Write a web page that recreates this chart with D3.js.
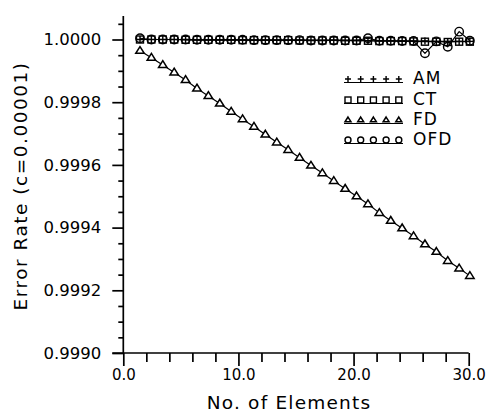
<!DOCTYPE html>
<html>
<head>
<meta charset="utf-8">
<script src="https://cdn.jsdelivr.net/npm/d3@7/dist/d3.min.js"></script>
<style>
  html, body { margin: 0; padding: 0; background: #fff; }
  svg { display: block; }
  text { font-family: "DejaVu Sans", sans-serif; fill: #000; }
</style>
</head>
<body>
<svg id="chart" width="490" height="414"></svg>
<script>
// Number of elements at each sample
const elements = [1.45, 2.44, 3.43, 4.42, 5.41, 6.40, 7.39, 8.38, 9.37, 10.36,
  11.35, 12.34, 13.33, 14.32, 15.31, 16.30, 17.29, 18.28, 19.27, 20.26,
  21.25, 22.24, 23.23, 24.22, 25.21, 26.20, 27.19, 28.18, 29.17, 30.10];

// Error rate per method (c = 0.00001)
const amRate = [1.000000, 1.000000, 1.000000, 1.000000, 1.000000, 0.999999, 0.999999, 0.999999, 0.999999, 0.999999,
  0.999998, 0.999998, 0.999998, 0.999998, 0.999998, 0.999997, 0.999997, 0.999998, 0.999997, 0.999997,
  0.999996, 0.999996, 0.999996, 0.999995, 0.999995, 0.999995, 0.999994, 0.999994, 0.999994, 0.999994];
const ctRate = [1.000000, 1.000000, 1.000000, 1.000000, 0.999999, 0.999999, 0.999999, 0.999999, 0.999999, 0.999998,
  0.999998, 0.999998, 0.999998, 0.999998, 0.999997, 0.999997, 0.999997, 0.999997, 0.999996, 0.999996,
  0.999996, 0.999995, 0.999995, 0.999995, 0.999994, 0.999993, 0.999993, 0.999992, 0.999993, 0.999993];
const fdRate = [0.999964, 0.999942, 0.999919, 0.999895, 0.999871, 0.999844, 0.999820, 0.999796, 0.999770, 0.999746,
  0.999722, 0.999697, 0.999672, 0.999648, 0.999623, 0.999598, 0.999574, 0.999549, 0.999524, 0.999500,
  0.999475, 0.999447, 0.999422, 0.999398, 0.999373, 0.999347, 0.999323, 0.999294, 0.999270, 0.999246];
const ofdRate = [1.000004, 1.000000, 1.000000, 1.000000, 1.000000, 0.999999, 0.999999, 0.999999, 0.999999, 0.999999,
  0.999998, 0.999998, 0.999998, 0.999998, 0.999998, 0.999997, 0.999997, 0.999997, 0.999997, 0.999997,
  1.000004, 0.999996, 0.999996, 0.999995, 0.999995, 0.999956, 0.999994, 0.999977, 1.000025, 0.999996];

const seriesNames = ["AM", "CT", "FD", "OFD"];

// Axis ticks
const xMajorTicks = [0, 10, 20, 30];
const xMinorTicks = [2, 4, 6, 8, 12, 14, 16, 18, 22, 24, 26, 28];
const yMajorTicks = [0.9990, 0.9992, 0.9994, 0.9996, 0.9998, 1.0000];
const yMinorTicks = [0.99905, 0.9991, 0.99915, 0.99925, 0.9993, 0.99935, 0.99945, 0.9995, 0.99955,
  0.99965, 0.9997, 0.99975, 0.99985, 0.9999, 0.99995, 1.00005];

const svg = d3.select("#chart");

const x = d3.scaleLinear().domain([0, 30]).range([123.3, 468.7]);
const y = d3.scaleLinear().domain([0.9990, 1.0000]).range([353, 39.5]);
const yTop = 1.000075;

const axisStroke = 1.7;

// y axis: major ticks with labels, then minor ticks
const yAxis = svg.append("g").attr("transform", `translate(${x(0)},0)`);
yAxis.call(d3.axisLeft(y).tickValues(yMajorTicks).tickSize(11).tickPadding(11)
  .tickFormat(d3.format(".4f")).tickSizeOuter(0));
yAxis.select(".domain").remove();
yAxis.append("g").call(d3.axisLeft(y).tickValues(yMinorTicks).tickSize(5).tickFormat(""))
  .select(".domain").remove();
yAxis.append("line").attr("x1", 0).attr("x2", 0)
  .attr("y1", y(0.9990)).attr("y2", y(yTop)).attr("stroke", "#000");
yAxis.selectAll("line").attr("stroke", "#000").attr("stroke-width", axisStroke);
yAxis.selectAll(".tick text").style("font-size", "16.5px")
  .style("font-family", "DejaVu Sans, sans-serif").attr("fill", "#000");

// x axis
const xAxis = svg.append("g").attr("transform", `translate(0,${y(0.9990)})`);
xAxis.call(d3.axisBottom(x).tickValues(xMajorTicks).tickSize(13).tickPadding(3)
  .tickFormat(d3.format(".1f")).tickSizeOuter(0));
xAxis.select(".domain").remove();
xAxis.append("g").call(d3.axisBottom(x).tickValues(xMinorTicks).tickSize(9).tickFormat(""))
  .select(".domain").remove();
xAxis.append("line").attr("x1", x(0) - 11).attr("x2", x(30)).attr("y1", 0).attr("y2", 0);
xAxis.selectAll("line").attr("stroke", "#000").attr("stroke-width", axisStroke);
xAxis.selectAll(".tick text").style("font-size", "15px")
  .style("font-family", "DejaVu Sans, sans-serif").attr("fill", "#000");

// Axis titles
svg.append("text")
  .attr("x", 289).attr("y", 409)
  .attr("text-anchor", "middle")
  .style("font-size", "18.5px").style("letter-spacing", "1.2px")
  .text("No.  of  Elements");

svg.append("text")
  .attr("transform", `translate(27,${186}) rotate(-90)`)
  .attr("text-anchor", "middle")
  .style("font-size", "18.5px").style("letter-spacing", "1.5px")
  .text("Error  Rate  (c=0.00001)");

// Marker shapes
function drawMarker(g, kind, cx, cy, s) {
  const h = s / 2;
  if (kind === "AM") {
    g.append("path").attr("d", `M${cx - h},${cy}H${cx + h}M${cx},${cy - h}V${cy + h}`)
      .attr("stroke", "#000").attr("stroke-width", 1.4).attr("fill", "none");
  } else if (kind === "CT") {
    g.append("rect").attr("x", cx - h).attr("y", cy - h).attr("width", s).attr("height", s)
      .attr("stroke", "#000").attr("stroke-width", 1.4).attr("fill", "none");
  } else if (kind === "FD") {
    const th = s * 0.8;
    g.append("path")
      .attr("d", `M${cx},${cy - th * 0.62}L${cx + h},${cy + th * 0.38}L${cx - h},${cy + th * 0.38}Z`)
      .attr("stroke", "#000").attr("stroke-width", 1.5).attr("fill", "#fff");
  } else {
    g.append("circle").attr("cx", cx).attr("cy", cy).attr("r", h)
      .attr("stroke", "#000").attr("stroke-width", 1.4).attr("fill", "none");
  }
}

const line = d3.line().x(d => x(d[0])).y(d => y(d[1]));
const seriesData = {
  AM: amRate, CT: ctRate, FD: fdRate, OFD: ofdRate
};
const markerSize = { AM: 7, CT: 7, FD: 8.5, OFD: 8.5 };

const plot = svg.append("g");
["FD", "CT", "AM", "OFD"].forEach(name => {
  const pts = elements.map((e, i) => [e, seriesData[name][i]]);
  const g = plot.append("g");
  g.append("path").attr("d", line(pts))
    .attr("fill", "none").attr("stroke", "#000").attr("stroke-width", 1.2);
  pts.forEach(p => drawMarker(g, name, x(p[0]), y(p[1]), markerSize[name]));
});

// Legend
const legendRows = [82.5, 103.5, 123.5, 143.5];
const legendX0 = 344, legendX1 = 403;
const legend = svg.append("g");
seriesNames.forEach((name, i) => {
  const ly = legendRows[i];
  const g = legend.append("g");
  g.append("line").attr("x1", legendX0).attr("x2", legendX1)
    .attr("y1", ly).attr("y2", ly).attr("stroke", "#000").attr("stroke-width", 1.2);
  d3.range(5).forEach(k => {
    const cx = legendX0 + 4 + k * 12.7;
    drawMarker(g, name, cx, ly - 3.5, 6);
  });
  g.append("text").attr("x", 413).attr("y", ly + 1.5)
    .style("font-size", "17px").style("letter-spacing", "1px")
    .text(name);
});
</script>
</body>
</html>
